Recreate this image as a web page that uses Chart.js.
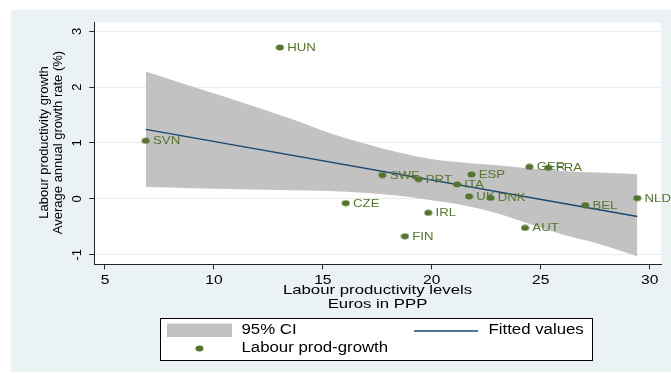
<!DOCTYPE html>
<html>
<head>
<meta charset="utf-8">
<script src="https://cdn.jsdelivr.net/npm/chart.js@4.4.1/dist/chart.umd.min.js"></script>
<style>
  html, body { margin: 0; padding: 0; background: #fff; }
  canvas { display: block; }
</style>
</head>
<body>
<canvas id="prodChart" width="671" height="374"></canvas>
<script>
// Labour productivity levels vs growth, by country
const countries = ['HUN', 'SVN', 'SWE', 'PRT', 'ITA', 'ESP', 'GER', 'FRA', 'UK', 'DNK', 'NLD', 'BEL', 'CZE', 'IRL', 'AUT', 'FIN'];
const levels = [13.03, 6.87, 17.73, 19.39, 21.16, 21.82, 24.48, 25.35, 21.71, 22.69, 29.43, 27.04, 16.05, 19.84, 24.28, 18.77];
const growth = [2.71, 1.04, 0.425, 0.353, 0.258, 0.437, 0.573, 0.556, 0.043, 0.018, 0.013, -0.113, -0.077, -0.25, -0.52, -0.67];

// fitted values (straight line) and 95% CI band edges
const fitX = [6.87, 29.43];
const fitY = [1.244, -0.316];
const bandX = [6.87, 9, 11.2, 13.5, 15.3, 16.9, 18.4, 19.9, 21.4, 23.0, 24.5, 26.0, 27.6, 29.43];
const bandUpper = [2.28, 2.01, 1.74, 1.44, 1.18, 0.99, 0.84, 0.72, 0.65, 0.60, 0.545, 0.50, 0.47, 0.44];
const bandLower = [0.21, 0.19, 0.17, 0.155, 0.14, 0.11, 0.06, -0.02, -0.11, -0.26, -0.45, -0.64, -0.80, -1.03];

const xTicks = [5, 10, 15, 20, 25, 30];
const yTicks = [-1, 0, 1, 2, 3];

const green = '#55752f';
const navy = '#1a476f';
const bandGray = '#c2c2c2';
const font = '"Liberation Sans", Arial, sans-serif';

// slightly flattened marker
const dot = document.createElement('canvas');
dot.width = 9;
dot.height = 7;
const dctx = dot.getContext('2d');
dctx.fillStyle = green;
dctx.beginPath();
dctx.ellipse(4.5, 3.5, 4, 3, 0, 0, Math.PI * 2);
dctx.fill();

const pts = (xs, ys) => xs.map((x, i) => ({ x, y: ys[i] }));

// text is drawn a bit wide, as in the original graph export
function wideText(ctx, text, x, y, align, stretch = 1.2) {
    ctx.save();
    ctx.translate(x, y);
    ctx.scale(stretch, 1);
    ctx.textAlign = align;
    ctx.textBaseline = 'middle';
    ctx.fillText(text, 0, 0);
    ctx.restore();
}

function upText(ctx, text, x, y) {
    ctx.save();
    ctx.translate(x, y);
    ctx.rotate(-Math.PI / 2);
    ctx.textAlign = 'center';
    ctx.textBaseline = 'middle';
    ctx.fillText(text, 0, 0);
    ctx.restore();
}

const decor = {
    id: 'decor',
    beforeDraw(chart) {
        const { ctx, chartArea: a } = chart;
        ctx.save();
        ctx.fillStyle = '#eaf2f3';
        ctx.fillRect(11, 10, 660, 362);
        ctx.fillStyle = '#fff';
        ctx.fillRect(a.left, a.top, a.right - a.left, a.bottom - a.top);
        ctx.restore();
    },
    beforeDatasetDraw(chart, args) {
        if (args.index !== 3) return;
        // country codes next to each marker, markers go on top
        const ctx = chart.ctx;
        ctx.save();
        ctx.fillStyle = green;
        ctx.font = `11px ${font}`;
        args.meta.data.forEach((p, i) => wideText(ctx, countries[i], p.x + 7.3, p.y + 0.5, 'left'));
        ctx.restore();
    },
    afterDraw(chart) {
        const { ctx } = chart;
        const xs = chart.scales.x, ys = chart.scales.y;
        ctx.save();
        ctx.fillStyle = '#000';

        ctx.font = `13px ${font}`;
        xTicks.forEach(v => wideText(ctx, String(v), xs.getPixelForValue(v), 280, 'center'));
        yTicks.forEach(v => upText(ctx, String(v), 77.5, ys.getPixelForValue(v)));

        ctx.font = `13px ${font}`;
        wideText(ctx, 'Labour productivity levels', 377.5, 290.5, 'center', 1.29);
        wideText(ctx, 'Euros in PPP', 377.5, 304, 'center', 1.29);

        ctx.font = `13px ${font}`;
        upText(ctx, 'Labour productivity growth', 44, 142.5);
        upText(ctx, 'Average annual growth rate (%)', 58.5, 142.5);

        // legend
        const ds = chart.data.datasets;
        ctx.fillStyle = '#fff';
        ctx.fillRect(160.5, 318.5, 432, 42);
        ctx.strokeStyle = '#000';
        ctx.lineWidth = 1;
        ctx.strokeRect(160.5, 318.5, 432, 42);

        ctx.fillStyle = bandGray;
        ctx.fillRect(167, 323.5, 65, 13.5);
        ctx.strokeStyle = navy;
        ctx.lineWidth = 1.3;
        ctx.beginPath();
        ctx.moveTo(414, 331);
        ctx.lineTo(478, 331);
        ctx.stroke();
        ctx.drawImage(dot, 195, 345);

        ctx.fillStyle = '#000';
        ctx.font = `14px ${font}`;
        wideText(ctx, ds[0].label, 241.5, 330.5, 'left');
        wideText(ctx, ds[2].label, 488.5, 330.5, 'left');
        wideText(ctx, ds[3].label, 241.5, 348.5, 'left');
        ctx.restore();
    }
};

new Chart(document.getElementById('prodChart'), {
    type: 'line',
    data: {
        datasets: [
            {
                label: '95% CI',
                data: pts(bandX, bandUpper),
                borderWidth: 0,
                pointRadius: 0,
                backgroundColor: bandGray,
                fill: '+1',
                cubicInterpolationMode: 'monotone',
                order: 3
            },
            {
                label: 'CI lower',
                data: pts(bandX, bandLower),
                borderWidth: 0,
                pointRadius: 0,
                fill: false,
                cubicInterpolationMode: 'monotone',
                order: 3
            },
            {
                label: 'Fitted values',
                data: pts(fitX, fitY),
                borderColor: navy,
                borderWidth: 1.3,
                pointRadius: 0,
                fill: false,
                order: 1
            },
            {
                label: 'Labour prod-growth',
                data: pts(levels, growth),
                showLine: false,
                pointStyle: dot,
                pointRadius: 4,
                backgroundColor: green,
                borderColor: green,
                order: 0
            }
        ]
    },
    options: {
        responsive: false,
        animation: false,
        layout: { padding: { top: 22.7, right: 10, left: 0, bottom: 0 } },
        scales: {
            x: {
                type: 'linear',
                min: 4.51,
                max: 30.52,
                afterFit: s => { s.height = 109.7; },
                afterBuildTicks: s => { s.ticks = xTicks.map(v => ({ value: v })); },
                ticks: { display: false },
                grid: { drawOnChartArea: false, drawTicks: true, tickLength: 5, tickColor: '#222' },
                border: { color: '#222', width: 1 }
            },
            y: {
                type: 'linear',
                min: -1.172,
                max: 3.154,
                afterFit: s => { s.width = 94.3; },
                afterBuildTicks: s => { s.ticks = yTicks.map(v => ({ value: v })); },
                ticks: { display: false },
                grid: { color: '#e4edef', lineWidth: 1, drawTicks: true, tickLength: 5, tickColor: '#222' },
                border: { color: '#222', width: 1 }
            }
        },
        plugins: {
            legend: { display: false },
            tooltip: { enabled: false }
        }
    },
    plugins: [decor]
});
</script>
</body>
</html>
